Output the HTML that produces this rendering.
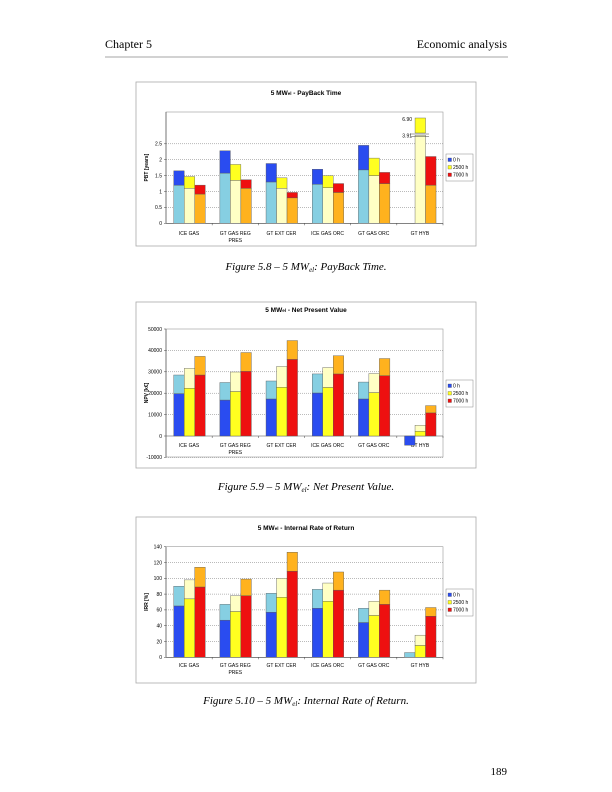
<!DOCTYPE html>
<html><head><meta charset="utf-8"><style>
html,body{margin:0;padding:0;background:#fff}
svg{display:block}
</style></head><body>
<svg id="page" width="612" height="792" viewBox="0 0 612 792" xmlns="http://www.w3.org/2000/svg" font-family="Liberation Sans, sans-serif">
<text x="105" y="48" font-family="Liberation Serif, serif" font-size="12">Chapter 5</text>
<text x="507" y="48" text-anchor="end" font-family="Liberation Serif, serif" font-size="12">Economic analysis</text>
<line x1="105" y1="57" x2="508" y2="57" stroke="#888" stroke-width="0.8"/>
<text x="306" y="270" text-anchor="middle" font-family="Liberation Serif, serif" font-style="italic" font-size="11">Figure 5.8 – 5 MW<tspan font-size="7" dy="2">el</tspan><tspan dy="-2">: PayBack Time.</tspan></text>
<text x="306" y="490" text-anchor="middle" font-family="Liberation Serif, serif" font-style="italic" font-size="11">Figure 5.9 – 5 MW<tspan font-size="7" dy="2">el</tspan><tspan dy="-2">: Net Present Value.</tspan></text>
<text x="306" y="704" text-anchor="middle" font-family="Liberation Serif, serif" font-style="italic" font-size="11">Figure 5.10 – 5 MW<tspan font-size="7" dy="2">el</tspan><tspan dy="-2">: Internal Rate of Return.</tspan></text>
<text x="507" y="775" text-anchor="end" font-family="Liberation Serif, serif" font-size="11">189</text>
</svg>
<script>
const categories = ["ICE GAS","GT GAS REG|PRES","GT EXT CER","ICE GAS ORC","GT GAS ORC","GT HYB"];
const seriesNames = ["0 h","2500 h","7000 h"];
// PayBack Time (years): lower segment and total per series
const pbtLow0 = [1.2,1.58,1.3,1.23,1.68,0];
const pbtTop0 = [1.65,2.28,1.88,1.7,2.45,0];
const pbtLow1 = [1.1,1.35,1.1,1.12,1.5,2.77];
const pbtTop1 = [1.47,1.85,1.43,1.5,2.05,2.77];
const pbtLow2 = [0.92,1.1,0.8,0.97,1.25,1.2];
const pbtTop2 = [1.2,1.37,0.97,1.25,1.6,2.1];
const pbtTicks = [0,0.5,1,1.5,2,2.5];
const pbtTickLabels = ["0","0.5","1","1.5","2","2.5"];
// Net Present Value (k€)
const npvLow0 = [19800,16800,17300,20100,17300,-4300];
const npvTop0 = [28500,25000,25700,29000,25200,-4300];
const npvLow1 = [22300,20800,22800,22700,20300,2200];
const npvTop1 = [31600,29900,32500,32000,29200,5000];
const npvLow2 = [28500,30200,35800,29000,28200,10800];
const npvTop2 = [37200,39000,44600,37500,36200,14200];
const npvTicks = [-10000,0,10000,20000,30000,40000,50000];
const npvTickLabels = ["-10000","0","10000","20000","30000","40000","50000"];
// Internal Rate of Return (%)
const irrLow0 = [65,47,57,62,44,0];
const irrTop0 = [90,67,81,86,62,6];
const irrLow1 = [74,58,76,71,53,15];
const irrTop1 = [98,78,100,94,71,28];
const irrLow2 = [89,78,109,85,67,52];
const irrTop2 = [114,99,133,108,85,63];
const irrTicks = [0,20,40,60,80,100,120,140];
const irrTickLabels = ["0","20","40","60","80","100","120","140"];

const NS="http://www.w3.org/2000/svg";
const svg=document.getElementById('page');
function mk(tag,attrs,parent){const e=document.createElementNS(NS,tag);for(const k in attrs)e.setAttribute(k,attrs[k]);(parent||svg).appendChild(e);return e;}
const C={blue:"#2a4cf0",lblue:"#86cfe2",yel:"#ffff20",lyel:"#ffffc4",red:"#ee1010",ora:"#ffb21e"};

function drawChart(o){
  const g=mk('g',{});
  
  
  const box=mk('rect',{x:136,y:o.boxY,width:340,height:o.boxH,fill:"#fff",stroke:"#aaa","stroke-width":0.8},g);
  
  
  const t=mk('text',{x:306,y:o.titleY,"text-anchor":"middle","font-size":6.5,"font-weight":"bold"},g);
  t.innerHTML=o.title[0]+'<tspan font-size="4.5">el</tspan>'+o.title[1];
  
  
  const x0=166,x1=443,gw=(x1-x0)/6;
  const yS=v=>o.zeroY-(v-0)*o.scale;
  const pa=mk('rect',{x:x0,y:o.plotTop,width:x1-x0,height:o.plotBot-o.plotTop,fill:"none",stroke:"#999","stroke-width":0.6},g);
  
  
  o.ticks.forEach((v,i)=>{
    const y=yS(v);
    if(v!==0&&y>o.plotTop+1){const gl=mk('line',{x1:x0,x2:x1,y1:y,y2:y,stroke:"#777","stroke-width":0.5,"stroke-dasharray":"1,1"},g);
      
      }
    mk('line',{x1:x0-2,x2:x0,y1:y,y2:y,stroke:"#444","stroke-width":0.5},g);
    const tl=mk('text',{x:x0-4,y:y+1.8,"text-anchor":"end","font-size":5},g);
    tl.textContent=o.tickLabels[i];
    
    
  });
  mk('line',{x1:x0,x2:x0,y1:o.plotTop,y2:o.plotBot,stroke:"#444","stroke-width":0.6},g);
  const ax=mk('line',{x1:x0,x2:x1,y1:yS(0),y2:yS(0),stroke:"#444","stroke-width":0.6},g);
  
  
  const yl=mk('text',{transform:`translate(${148},${(o.plotTop+o.plotBot)/2}) rotate(-90)`,"text-anchor":"middle","font-size":5,"font-weight":"bold"},g);
  yl.textContent=o.ylabel;
  
  
  for(let i=0;i<6;i++){
    const gx=x0+i*gw;
    mk('line',{x1:gx+gw,x2:gx+gw,y1:yS(0),y2:yS(0)+2,stroke:"#444","stroke-width":0.5},g);
    const parts=categories[i].split('|');
    parts.forEach((p,k)=>{
      const cl=mk('text',{x:gx+gw/2,y:o.catY+k*7,"text-anchor":"middle","font-size":5},g);
      cl.textContent=p;
      
      
    });
    for(let j=0;j<3;j++){
      const low=o.low[j][i],top=o.top[j][i];
      const bx=gx+7.7+j*10.5,bw=10.5;
      const cols=o.colors[j];
      const seg=(a,b,fill,nm)=>{
        if(Math.abs(b-a)<1e-9)return;
        const ya=yS(Math.max(a,b)),yb=yS(Math.min(a,b));
        const r=mk('rect',{x:bx,y:ya,width:bw,height:yb-ya,fill:fill,stroke:"#555","stroke-width":0.4},g);
        
        
      };
      seg(0,low,cols[0],'bar-lower');
      seg(low,top,cols[1],'bar-upper');
    }
  }
  if(o.extra)o.extra(g,yS,x0,gw);
  const lg=mk('g',{},g);
  
  
  mk('rect',{x:446,y:o.legY,width:27,height:27,fill:"#fff",stroke:"#888","stroke-width":0.5},lg);
  seriesNames.forEach((s,j)=>{
    const yy=o.legY+4+j*7.5;
    mk('rect',{x:448,y:yy,width:3.5,height:3.5,fill:o.legCol[j],stroke:"#444","stroke-width":0.3},lg);
    const le=mk('text',{x:453,y:yy+3.5,"font-size":5},lg);
    le.textContent=s;
    
    
  });
}

drawChart({name:'payback-time-chart',boxY:82,boxH:164,titleY:95,title:["5 MW"," - PayBack Time"],
  plotTop:112,plotBot:223.3,zeroY:223.3,scale:31.8,ticks:pbtTicks,tickLabels:pbtTickLabels,ylabel:"PBT [years]",catY:235,legY:154,
  low:[pbtLow0,pbtLow1,pbtLow2],top:[pbtTop0,pbtTop1,pbtTop2],
  colors:[[C.lblue,C.blue],[C.lyel,C.yel],[C.ora,C.red]],legCol:[C.blue,C.yel,C.red],
  extra:(g,yS,x0,gw)=>{
    const bx=x0+5*gw+7.7+10.5;
    const r=mk('rect',{x:bx,y:118,width:10.5,height:15,fill:C.yel,stroke:"#555","stroke-width":0.4},g);
    
    
    mk('line',{x1:bx-4,x2:bx+14,y1:134,y2:134,stroke:"#444","stroke-width":0.5},g);
    mk('line',{x1:bx-4,x2:bx+14,y1:136.5,y2:136.5,stroke:"#444","stroke-width":0.5},g);
    const a=mk('text',{x:bx-3,y:121,"text-anchor":"end","font-size":5},g);a.textContent="6.90";
    
    
    const b=mk('text',{x:bx-3,y:137.5,"text-anchor":"end","font-size":5},g);b.textContent="3.91";
    
    
  }});
drawChart({name:'net-present-value-chart',boxY:302,boxH:166,titleY:312,title:["5 MW"," - Net Present Value"],
  plotTop:329,plotBot:457,zeroY:436,scale:21.4/10000,ticks:npvTicks,tickLabels:npvTickLabels,ylabel:"NPV [k€]",catY:447,legY:380,
  low:[npvLow0,npvLow1,npvLow2],top:[npvTop0,npvTop1,npvTop2],
  colors:[[C.blue,C.lblue],[C.yel,C.lyel],[C.red,C.ora]],legCol:[C.blue,C.yel,C.red]});
drawChart({name:'internal-rate-of-return-chart',boxY:517,boxH:166,titleY:530,title:["5 MW"," - Internal Rate of Return"],
  plotTop:546.7,plotBot:657.3,zeroY:657.3,scale:15.8/20,ticks:irrTicks,tickLabels:irrTickLabels,ylabel:"IRR [%]",catY:667,legY:589,
  low:[irrLow0,irrLow1,irrLow2],top:[irrTop0,irrTop1,irrTop2],
  colors:[[C.blue,C.lblue],[C.yel,C.lyel],[C.red,C.ora]],legCol:[C.blue,C.yel,C.red]});
</script>
</body></html>
